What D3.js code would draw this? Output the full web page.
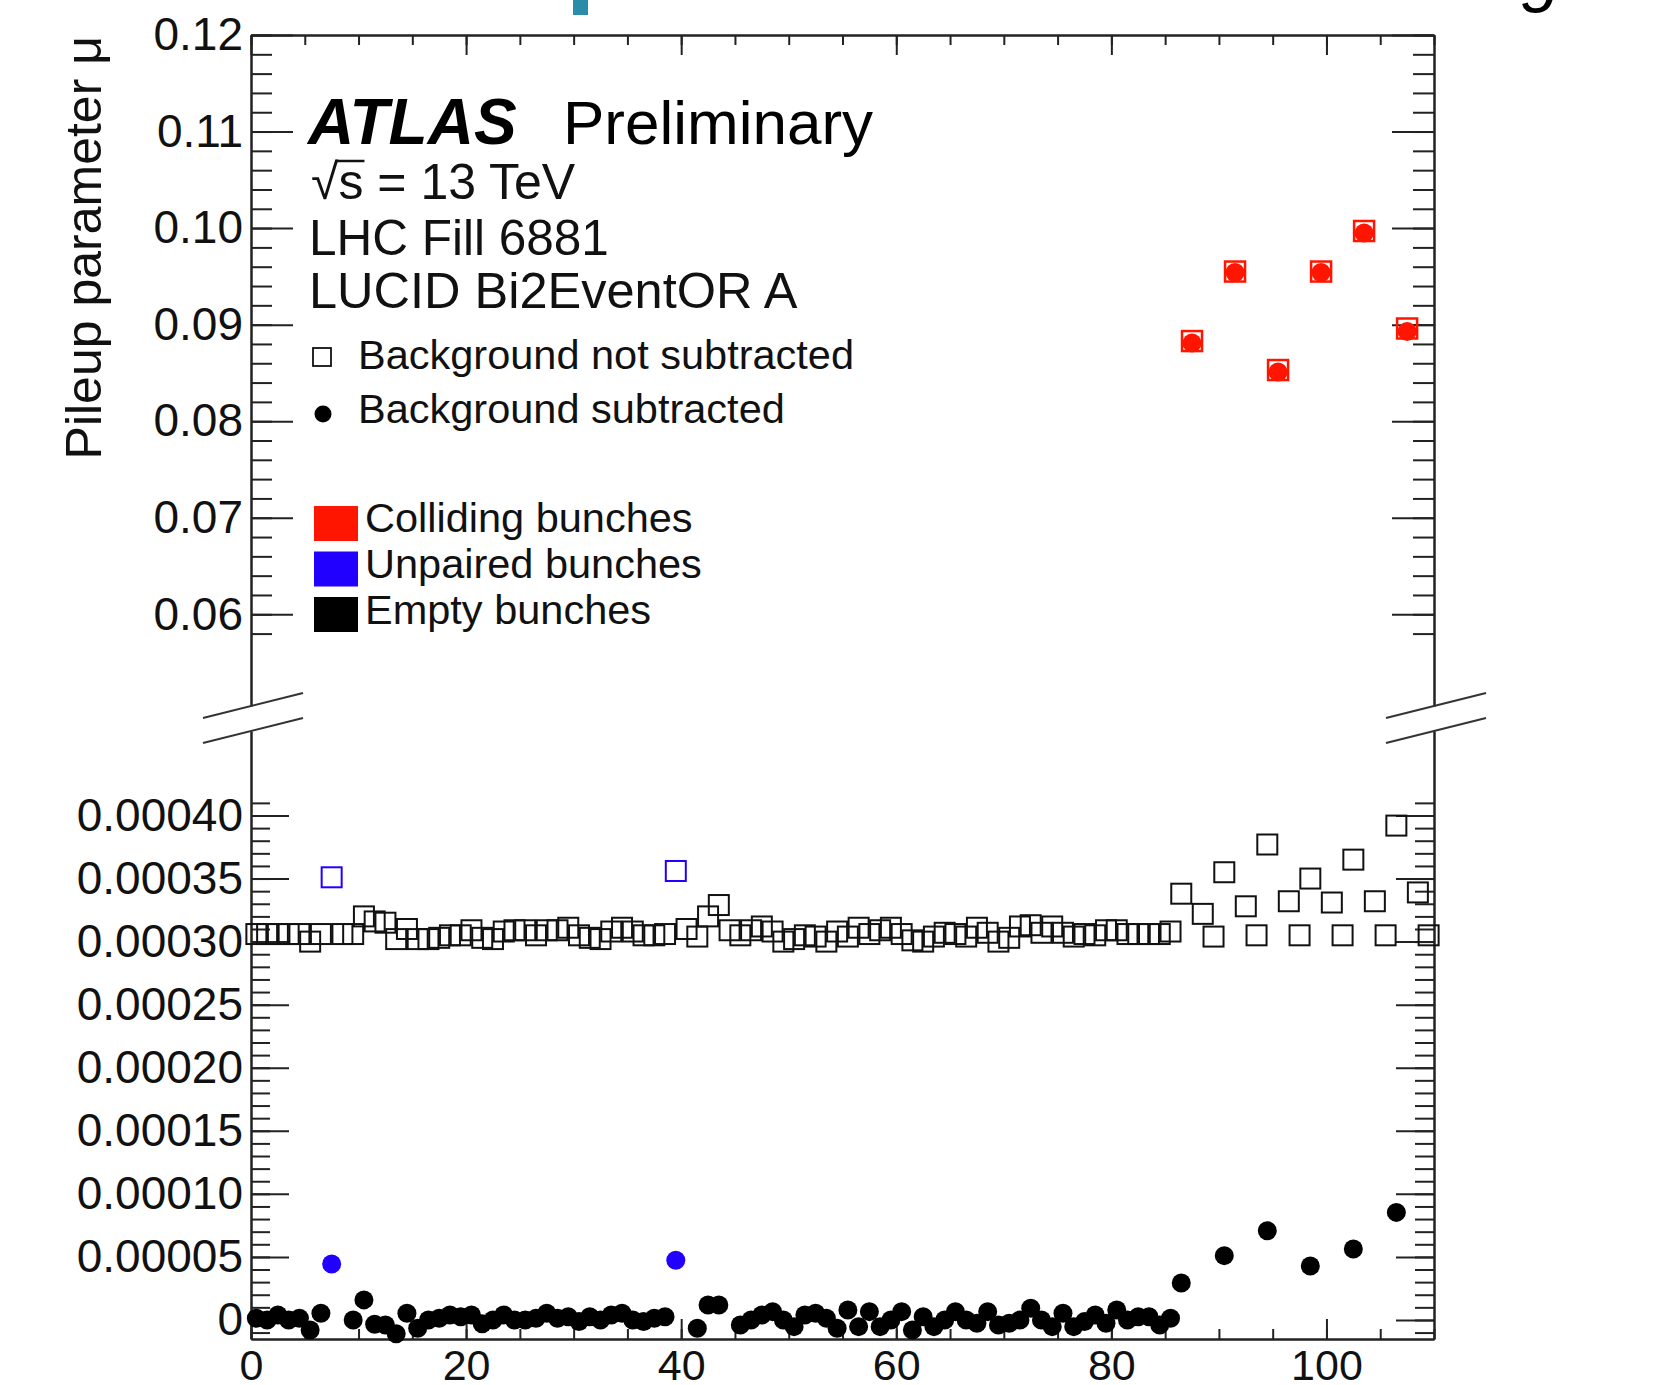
<!DOCTYPE html>
<html>
<head>
<meta charset="utf-8">
<script src="https://cdn.jsdelivr.net/npm/d3@7"></script>
<style>
  body { margin: 0; background: #fff; }
  svg text { font-family: "Liberation Sans", Arial, Helvetica, sans-serif; }
</style>
</head>
<body>
<svg id="chart" width="1660" height="1385"></svg>
<script>
// ---- tick values / labels ----
const xTickValues = [0, 20, 40, 60, 80, 100];
const upperTickValues = [0.06, 0.07, 0.08, 0.09, 0.10, 0.11, 0.12];
const upperTickLabels = ['0.06', '0.07', '0.08', '0.09', '0.10', '0.11', '0.12'];
const lowerTickValues = [0, 0.00005, 0.0001, 0.00015, 0.0002, 0.00025, 0.0003, 0.00035, 0.0004];
const lowerTickLabels = ['0', '0.00005', '0.00010', '0.00015', '0.00020', '0.00025', '0.00030', '0.00035', '0.00040'];

// ---- colliding bunches (upper panel) ----
const collidingBunches = [87, 91, 95, 99, 103, 107];
const collidingRaw = [0.0883, 0.0955, 0.0853, 0.0955, 0.0997, 0.0896];
const collidingSub = [0.0881, 0.0954, 0.0851, 0.0954, 0.0995, 0.0893];

// ---- unpaired bunches ----
const unpairedBunches = [7, 39];
const unpairedRaw = [3.51e-4, 3.56e-4];
const unpairedSub = [4.44e-5, 4.73e-5];

// ---- empty bunches ----
const emptyBunches = [
  0, 1, 2, 3, 4, 5, 6,
  8, 9, 10, 11, 12, 13, 14, 15, 16, 17, 18, 19, 20, 21, 22, 23, 24, 25, 26, 27, 28, 29, 30,
  31, 32, 33, 34, 35, 36, 37, 38,
  40, 41, 42, 43, 44, 45, 46, 47, 48, 49, 50, 51, 52, 53, 54, 55, 56, 57, 58, 59, 60,
  61, 62, 63, 64, 65, 66, 67, 68, 69, 70, 71, 72, 73, 74, 75, 76, 77, 78, 79, 80,
  81, 82, 83, 84, 85, 86,
  88, 89, 90, 92, 93, 94, 96, 97, 98, 100, 101, 102, 104, 105, 106, 108, 109
];
const emptyRaw = [
  3.06e-4, 3.06e-4, 3.06e-4, 3.06e-4, 3.06e-4, 3.00e-4, 3.06e-4,
  3.06e-4, 3.06e-4, 3.20e-4, 3.16e-4, 3.15e-4, 3.02e-4, 3.10e-4, 3.02e-4, 3.02e-4, 3.03e-4,
  3.05e-4, 3.05e-4, 3.09e-4, 3.03e-4, 3.02e-4, 3.08e-4, 3.09e-4, 3.09e-4, 3.05e-4, 3.09e-4,
  3.09e-4, 3.11e-4, 3.05e-4, 3.03e-4, 3.02e-4, 3.08e-4, 3.11e-4, 3.08e-4, 3.05e-4, 3.05e-4, 3.06e-4,
  3.10e-4, 3.04e-4, 3.20e-4, 3.29e-4, 3.09e-4, 3.05e-4, 3.09e-4, 3.12e-4, 3.08e-4, 3.00e-4,
  3.02e-4, 3.05e-4, 3.04e-4, 3.00e-4, 3.08e-4, 3.04e-4, 3.11e-4, 3.06e-4, 3.09e-4, 3.11e-4,
  3.06e-4, 3.01e-4, 3.00e-4, 3.04e-4, 3.07e-4, 3.06e-4, 3.04e-4, 3.11e-4, 3.07e-4, 3.00e-4,
  3.03e-4, 3.12e-4, 3.13e-4, 3.07e-4, 3.12e-4, 3.07e-4, 3.04e-4, 3.06e-4, 3.05e-4, 3.09e-4,
  3.09e-4, 3.06e-4, 3.06e-4, 3.06e-4, 3.06e-4, 3.08e-4, 3.38e-4,
  3.22e-4, 3.04e-4, 3.55e-4, 3.28e-4, 3.05e-4, 3.77e-4, 3.32e-4, 3.05e-4, 3.50e-4,
  3.31e-4, 3.05e-4, 3.65e-4, 3.32e-4, 3.05e-4, 3.92e-4, 3.39e-4, 3.05e-4
];
// null = not visible in the plotted range
const emptySub = [
  1.3e-6, 0, 4.0e-6, 0, 1.3e-6, -8.0e-6, 5.3e-6,
  null, 0, 1.59e-5, -3.4e-6, -4.0e-6, -1.1e-5, 5.3e-6, -6.6e-6, 0, 1.3e-6,
  4.0e-6, 2.6e-6, 4.0e-6, -3.0e-6, 0, 4.0e-6, 0, 0, 1.3e-6, 5.3e-6,
  1.3e-6, 2.6e-6, -1.3e-6, 2.6e-6, 0, 4.0e-6, 5.3e-6, 0, -1.3e-6, 1.3e-6, 2.6e-6,
  null, -6.6e-6, 1.19e-5, 1.19e-5, null, -4.0e-6, 0, 4.0e-6, 6.6e-6, 0,
  -5.3e-6, 4.0e-6, 5.3e-6, 1.3e-6, -6.6e-6, 7.9e-6, -5.3e-6, 6.6e-6, -5.3e-6, 0,
  6.6e-6, -7.9e-6, 2.6e-6, -5.3e-6, 0, 6.6e-6, 0, -2.6e-6, 6.6e-6, -4.0e-6,
  -2.6e-6, 0, 9.3e-6, 0, -5.3e-6, 5.3e-6, -5.3e-6, -1.3e-6, 4.0e-6, -2.6e-6,
  7.9e-6, 0, 2.6e-6, 2.6e-6, -4.0e-6, 1.3e-6, 2.93e-5,
  null, null, 5.1e-5, null, null, 7.07e-5, null, null, 4.28e-5,
  null, null, 5.63e-5, null, null, 8.53e-5, null, null
];

const RED = '#ff1500';
const BLUE = '#2200ff';
const INK = '#222';

const svg = d3.select('#chart');

// ---- scales ----
const x = d3.scaleLinear().domain([0, 110]).range([251, 1434]);
const yUp = d3.scaleLinear().domain([0.0505, 0.12]).range([706, 35]);
const yLo = d3.scaleLinear().domain([-0.0000151, 0.000467]).range([1339, 731]);
const binX = b => x(b + 0.5);

const frameLeft = x.range()[0], frameRight = x.range()[1];
const frameTop = yUp.range()[1], frameBottom = yLo.range()[0];

function styleAxis(g, size) {
  g.select('.domain').attr('stroke', INK).attr('stroke-width', 2);
  g.selectAll('.tick line').attr('stroke', INK).attr('stroke-width', 2);
  g.selectAll('.tick text')
    .attr('font-size', size)
    .attr('fill', '#111')
    .attr('font-family', '"Liberation Sans", Arial, sans-serif');
}

// ---- x axes (bottom with labels, top mirrored) ----
const xMinor = d3.range(0, 111, 5);
svg.append('g').attr('transform', `translate(0,${frameBottom})`)
  .call(d3.axisBottom(x).tickValues(xMinor).tickSize(-10).tickSizeOuter(0).tickFormat(''))
  .call(g => styleAxis(g, 10));
svg.append('g').attr('transform', `translate(0,${frameBottom})`)
  .call(d3.axisBottom(x).tickValues(xTickValues).tickSize(-20).tickSizeOuter(0).tickPadding(10))
  .call(g => styleAxis(g, 43));
svg.append('g').attr('transform', `translate(0,${frameTop})`)
  .call(d3.axisTop(x).tickValues(xMinor).tickSize(-10).tickSizeOuter(0).tickFormat(''))
  .call(g => styleAxis(g, 10));
svg.append('g').attr('transform', `translate(0,${frameTop})`)
  .call(d3.axisTop(x).tickValues(xTickValues).tickSize(-20).tickSizeOuter(0).tickFormat(''))
  .call(g => styleAxis(g, 10));

// ---- y axes, upper and lower panels ----
const upperMinor = d3.range(58, 121, 2).map(v => v / 1000);
const lowerMinor = d3.range(-1, 42).map(v => v * 1e-5);

function yAxes(scale, majors, labels, minors, majorLen, minorLen) {
  svg.append('g').attr('transform', `translate(${frameLeft},0)`)
    .call(d3.axisLeft(scale).tickValues(minors).tickSize(-minorLen).tickSizeOuter(0).tickFormat(''))
    .call(g => styleAxis(g, 10));
  svg.append('g').attr('transform', `translate(${frameLeft},0)`)
    .call(d3.axisLeft(scale).tickValues(majors).tickSize(-majorLen).tickSizeOuter(0)
      .tickPadding(8).tickFormat((d, i) => labels[i]))
    .call(g => styleAxis(g, 46));
  svg.append('g').attr('transform', `translate(${frameRight},0)`)
    .call(d3.axisRight(scale).tickValues(minors).tickSize(-minorLen).tickSizeOuter(0).tickFormat(''))
    .call(g => styleAxis(g, 10));
  svg.append('g').attr('transform', `translate(${frameRight},0)`)
    .call(d3.axisRight(scale).tickValues(majors).tickSize(-majorLen).tickSizeOuter(0).tickFormat(''))
    .call(g => styleAxis(g, 10));
}
yAxes(yUp, upperTickValues, upperTickLabels, upperMinor, 42, 21);
yAxes(yLo, lowerTickValues, lowerTickLabels, lowerMinor, 38, 19);

// ---- axis break marks ----
const breakYs = [yUp.range()[0], yLo.range()[1]];
[frameLeft, frameRight].forEach(ax => {
  breakYs.forEach(by => {
    svg.append('line')
      .attr('x1', ax - 48).attr('y1', by + 12)
      .attr('x2', ax + 52).attr('y2', by - 13)
      .attr('stroke', '#333').attr('stroke-width', 2);
  });
});

// ---- markers ----
const SQ = 20, R = 9.5;

function squares(bunches, values, scale, color, sw) {
  svg.append('g').selectAll('rect')
    .data(bunches.map((b, i) => [b, values[i]]))
    .join('rect')
    .attr('x', d => binX(d[0]) - SQ / 2)
    .attr('y', d => scale(d[1]) - SQ / 2)
    .attr('width', SQ).attr('height', SQ)
    .attr('fill', 'none').attr('stroke', color).attr('stroke-width', sw);
}
function circles(bunches, values, scale, color) {
  svg.append('g').selectAll('circle')
    .data(bunches.map((b, i) => [b, values[i]]).filter(d => d[1] !== null))
    .join('circle')
    .attr('cx', d => binX(d[0]))
    .attr('cy', d => scale(d[1]))
    .attr('r', R)
    .attr('fill', color);
}

squares(emptyBunches, emptyRaw, yLo, '#111', 2);
circles(emptyBunches, emptySub, yLo, '#000');
squares(unpairedBunches, unpairedRaw, yLo, BLUE, 2);
circles(unpairedBunches, unpairedSub, yLo, BLUE);
squares(collidingBunches, collidingRaw, yUp, RED, 2.5);
circles(collidingBunches, collidingSub, yUp, RED);

// ---- y title ----
svg.append('text')
  .attr('transform', 'translate(101,36) rotate(-90)')
  .attr('text-anchor', 'end')
  .attr('font-size', 50)
  .attr('fill', '#111')
  .text('Pileup parameter \u03bc');

// ---- labels ----
svg.append('text').attr('x', 308).attr('y', 144)
  .attr('font-size', 64).attr('font-weight', 'bold').attr('font-style', 'italic')
  .attr('fill', '#000').text('ATLAS');
svg.append('text').attr('x', 563).attr('y', 144)
  .attr('font-size', 62).attr('fill', '#000').text('Preliminary');

// sqrt(s) with a bar drawn over the s
const sqrtText = svg.append('text').attr('x', 311).attr('y', 199).attr('font-size', 50).attr('fill', '#111')
  .text('\u221as = 13 TeV');
const sNode = sqrtText.node();
svg.append('line')
  .attr('x1', sNode.getEndPositionOfChar(0).x - 3)
  .attr('x2', sNode.getEndPositionOfChar(1).x + 1)
  .attr('y1', 199 - 38).attr('y2', 199 - 38)
  .attr('stroke', '#111').attr('stroke-width', 2.5);

svg.append('text').attr('x', 309).attr('y', 255).attr('font-size', 49.5).attr('fill', '#111').text('LHC Fill 6881');
svg.append('text').attr('x', 309).attr('y', 308).attr('font-size', 50.5).attr('fill', '#111').text('LUCID Bi2EventOR A');

// marker legend
svg.append('rect').attr('x', 313).attr('y', 348).attr('width', 18).attr('height', 18)
  .attr('fill', 'none').attr('stroke', '#111').attr('stroke-width', 1.8);
svg.append('text').attr('x', 358).attr('y', 369).attr('font-size', 41.5).attr('fill', '#111')
  .text('Background not subtracted');
svg.append('circle').attr('cx', 323).attr('cy', 414).attr('r', 8.5).attr('fill', '#000');
svg.append('text').attr('x', 358).attr('y', 423).attr('font-size', 41.5).attr('fill', '#111')
  .text('Background subtracted');

// bunch type legend
const bunchTypes = ['Colliding bunches', 'Unpaired bunches', 'Empty bunches'];
const bunchColors = [RED, BLUE, '#000'];
const legend = svg.append('g');
bunchTypes.forEach((name, i) => {
  legend.append('rect').attr('x', 314).attr('y', 506 + i * 45.5)
    .attr('width', 44).attr('height', 35).attr('fill', bunchColors[i]);
  legend.append('text').attr('x', 365).attr('y', 532 + i * 46)
    .attr('font-size', 41.5).attr('fill', '#111').text(name);
});

// ---- cropped slide remnants at the top edge ----
svg.append('rect').attr('x', 573).attr('y', 0).attr('width', 15).attr('height', 15).attr('fill', '#2a8ca8');
svg.append('text').attr('x', 1522).attr('y', -2)
  .attr('font-family', '"Liberation Serif", serif').attr('font-style', 'italic')
  .attr('font-size', 70).attr('fill', '#000').text('g');
</script>
</body>
</html>
